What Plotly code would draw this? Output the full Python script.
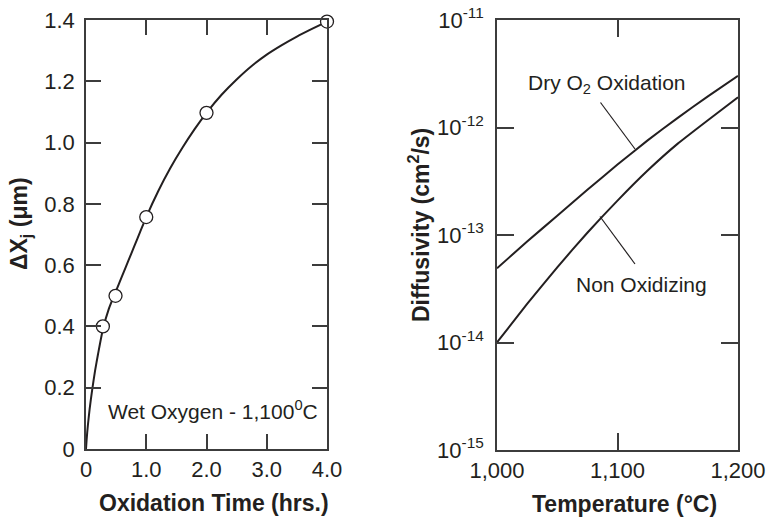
import plotly.graph_objects as go

W, H = 770, 518

# ---- Left panel: oxidation data ----
time_curve = [0, 0.01, 0.03, 0.06, 0.1, 0.15, 0.2, 0.28, 0.38, 0.49, 0.6, 0.7, 0.8, 0.9, 1.0,
              1.2, 1.4, 1.6, 1.8, 2.0, 2.25, 2.5, 2.75, 3.0, 3.25, 3.5, 3.75, 4.0]
dxj_curve = [0, 0.03, 0.075, 0.13, 0.19, 0.255, 0.31, 0.39, 0.458, 0.512, 0.565, 0.613, 0.661, 0.709, 0.757,
             0.842, 0.917, 0.983, 1.043, 1.097, 1.156, 1.206, 1.25, 1.287, 1.318, 1.346, 1.371, 1.395]
time_pts = [0.28, 0.49, 1.0, 2.0, 4.0]
dxj_pts = [0.40, 0.50, 0.757, 1.097, 1.395]
x1_ticks = [0, 1, 2, 3, 4]
x1_ticktext = ["0", "1.0", "2.0", "3.0", "4.0"]
y1_ticks = [0, 0.2, 0.4, 0.6, 0.8, 1.0, 1.2, 1.4]
y1_ticktext = ["0", "0.2", "0.4", "0.6", "0.8", "1.0", "1.2", "1.4"]

# ---- Right panel: diffusivity data ----
temp = [1000, 1025, 1050, 1075, 1100, 1125, 1150, 1175, 1200]
d_dry = [4.9e-14, 8.7e-14, 1.51e-13, 2.63e-13, 4.52e-13, 7.59e-13, 1.23e-12, 1.95e-12, 3.02e-12]
d_nonox = [1.0e-14, 2.29e-14, 5.01e-14, 1.05e-13, 2.09e-13, 3.98e-13, 7.08e-13, 1.17e-12, 1.91e-12]
x2_ticks = [1000, 1100, 1200]
x2_ticktext = ["1,000", "1,100", "1,200"]
y2_ticks = [1e-15, 1e-14, 1e-13, 1e-12, 1e-11]
y2_ticktext = ["10<sup>-15</sup>", "10<sup>-14</sup>", "10<sup>-13</sup>", "10<sup>-12</sup>", "10<sup>-11</sup>"]

FONT = "Liberation Sans, Arial, Helvetica, sans-serif"
INK = "#231f20"
AXC = "#3c3c3c"

fig = go.Figure()
fig.add_trace(go.Scatter(x=time_curve, y=dxj_curve, mode="lines",
                         line=dict(color=INK, width=2, shape="spline", smoothing=0.6),
                         xaxis="x", yaxis="y", showlegend=False, cliponaxis=False))
fig.add_trace(go.Scatter(x=time_pts, y=dxj_pts, mode="markers",
                         marker=dict(symbol="circle", size=13, color="white",
                                     line=dict(color=INK, width=1.3)),
                         xaxis="x", yaxis="y", showlegend=False, cliponaxis=False))
fig.add_trace(go.Scatter(x=temp, y=d_dry, mode="lines",
                         line=dict(color=INK, width=2, shape="spline", smoothing=0.4),
                         xaxis="x2", yaxis="y2", showlegend=False))
fig.add_trace(go.Scatter(x=temp, y=d_nonox, mode="lines",
                         line=dict(color=INK, width=2, shape="spline", smoothing=0.4),
                         xaxis="x2", yaxis="y2", showlegend=False))

def px(x):
    return x / W

def py(y):
    return 1 - y / H

axis_common = dict(showline=True, linecolor=AXC, linewidth=1.5, mirror="ticks",
                   ticks="inside", tickcolor=AXC, tickwidth=1.5, showgrid=False,
                   zeroline=False, automargin=False,
                   tickfont=dict(family=FONT, size=22, color=INK))

fig.update_layout(
    width=W, height=H, margin=dict(l=0, r=0, t=0, b=0, autoexpand=False),
    paper_bgcolor="white", plot_bgcolor="white",
    xaxis=dict(domain=[px(86), px(327)], range=[0, 4], tickvals=x1_ticks,
               ticktext=x1_ticktext, ticklen=15, anchor="y", **axis_common),
    yaxis=dict(domain=[py(449), py(20)], range=[0, 1.4], tickvals=y1_ticks,
               ticktext=y1_ticktext, ticklen=15, anchor="x", ticklabelstandoff=5, **axis_common),
    xaxis2=dict(domain=[px(497), px(738)], range=[1000, 1200], tickvals=x2_ticks,
                ticktext=x2_ticktext, ticklen=17, anchor="y2", **axis_common),
    yaxis2=dict(domain=[py(450), py(20)], type="log", range=[-15, -11], tickvals=y2_ticks,
                ticktext=y2_ticktext, ticklen=17, anchor="x2", ticklabelstandoff=7, **axis_common),
)

ann_font = dict(family=FONT, size=21, color=INK)
title_font = dict(family=FONT, size=23, color=INK)
annotations = [
    dict(text="Wet Oxygen - 1,100<sup>0</sup>C", x=px(213), y=py(410), font=ann_font),
    dict(text="Dry O<sub>2</sub> Oxidation", x=px(607), y=py(84), font=ann_font),
    dict(text="Non Oxidizing", x=px(641), y=py(284), font=ann_font),
    dict(text="<b>Oxidation Time (hrs.)</b>", x=px(214), y=py(503), font=title_font),
    dict(text="<b>Temperature (°C)</b>", x=px(624), y=py(504), font=title_font),
    dict(text="<b>ΔX<sub>j</sub> (μm)</b>", x=px(20), y=py(224), font=title_font, textangle=-90),
    dict(text="<b>Diffusivity (cm<sup>2</sup>/s)</b>", x=px(419), y=py(225), font=title_font, textangle=-90),
]
for a in annotations:
    a.update(xref="paper", yref="paper", showarrow=False, xanchor="center", yanchor="middle")
fig.update_layout(annotations=annotations)

shapes = [
    dict(type="line", x0=px(600.5), y0=py(102.5), x1=px(635), y1=py(149)),
    dict(type="line", x0=px(600), y0=py(216.5), x1=px(635), y1=py(264)),
]
for s in shapes:
    s.update(xref="paper", yref="paper", line=dict(color=INK, width=1.2))
fig.update_layout(shapes=shapes)

fig.write_html("out.html")
